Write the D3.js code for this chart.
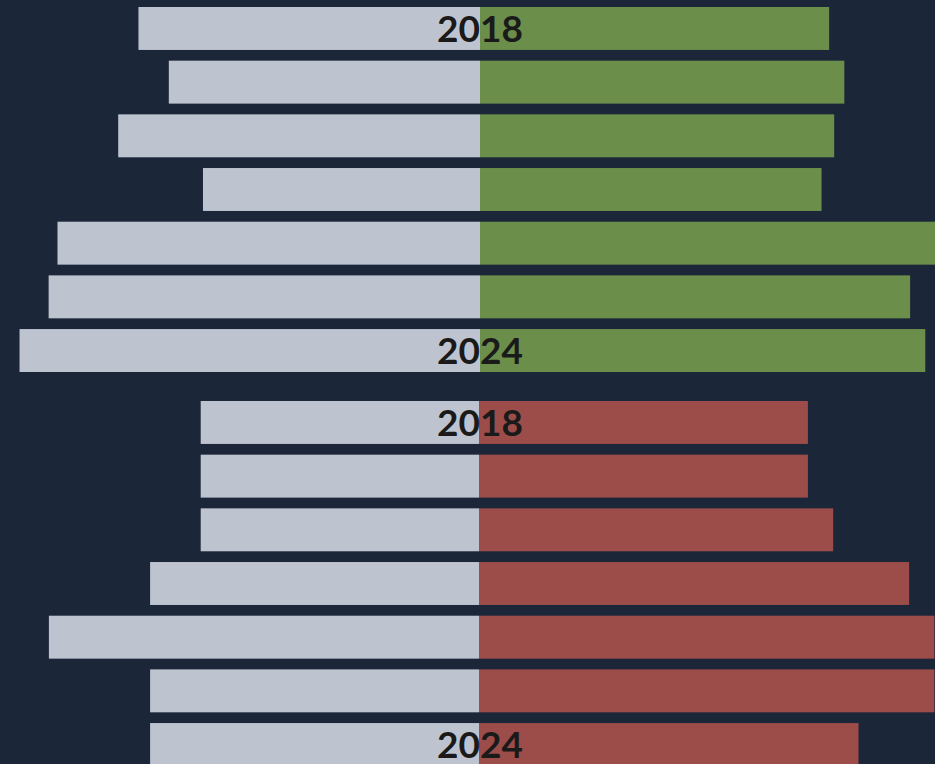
<!DOCTYPE html>
<html><head><meta charset="utf-8">
<script src="https://cdn.jsdelivr.net/npm/d3@7/dist/d3.min.js"></script>
<style>html,body{margin:0;padding:0;background:#1c2639;overflow:hidden}</style>
</head><body>
<svg id="chart" width="935" height="764"></svg>
<script>
const years = ["2018","2019","2020","2021","2022","2023","2024"];
const topLeft   = [13.5, 12.3, 14.3, 10.95, 16.7, 17.05, 18.2];
const topRight  = [13.8, 14.4, 14.0, 13.5, 18.0, 17.0, 17.6];
const botLeft   = [11, 11, 11, 13, 17, 13, 13];
const botRight  = [13, 13, 14, 17, 18, 18, 15];
const labelYears = ["2018","2024"];

const svg = d3.select("#chart");
svg.append("rect").attr("width",935).attr("height",764).attr("fill","#1c2639");

const x = d3.scaleLinear().domain([0,20]).range([0,506]);

function group(y0, y1, cx, left, right, color) {
  const y = d3.scaleBand().domain(years).range([y0,y1]).paddingInner(0.2).paddingOuter(0);
  const g = svg.append("g");
  g.selectAll("rect.l").data(years).join("rect")
    .attr("x", (d,i)=>cx - x(left[i])).attr("y", d=>y(d))
    .attr("width",(d,i)=>x(left[i])).attr("height", y.bandwidth())
    .attr("fill","#bec4cf");
  g.selectAll("rect.r").data(years).join("rect")
    .attr("x", cx).attr("y", d=>y(d))
    .attr("width",(d,i)=>x(right[i])).attr("height", y.bandwidth())
    .attr("fill",color);
  g.selectAll("text").data(labelYears).join("text")
    .attr("x", 480).attr("y", d=>y(d)+y.bandwidth()/2 + 13.5)
    .attr("text-anchor","middle")
    .attr("font-family","Lato, sans-serif").attr("font-weight","bold")
    .attr("font-size","37px").attr("fill","#1a1a1a")
    .text(d=>d);
}
group(7, 372, 480, topLeft, topRight, "#6b8e4b");
group(401, 766, 479, botLeft, botRight, "#9c4d4a");
</script>
</body></html>
